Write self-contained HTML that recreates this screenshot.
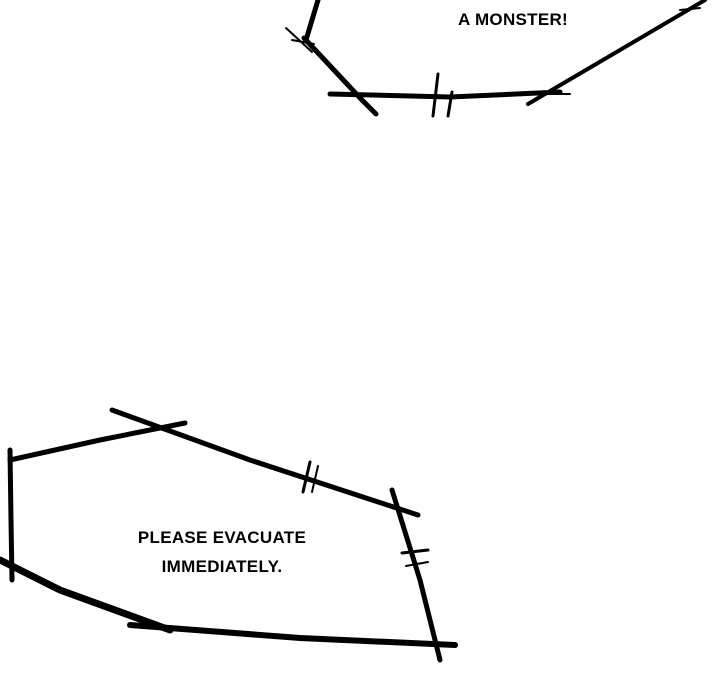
<!DOCTYPE html>
<html><head><style>
html,body{margin:0;padding:0;background:#fff;width:720px;height:700px;overflow:hidden}
</style></head><body>
<svg width="720" height="700" viewBox="0 0 720 700" xmlns="http://www.w3.org/2000/svg">
<g stroke="#000" stroke-linecap="round" fill="none">
<path d="M318 0 L306 40" stroke-width="5"/>
<path d="M286 28 L312 52" stroke-width="2"/>
<path d="M292 40 L314 44" stroke-width="2"/>
<path d="M304 38 L362 100 L376 114" stroke-width="5"/>
<path d="M330 94 L450 97 L560 92" stroke-width="5"/>
<path d="M438 74 L433 116" stroke-width="3"/>
<path d="M452 92 L448 116" stroke-width="3"/>
<path d="M528 104 L620 50 L705 0" stroke-width="4"/>
<path d="M540 94 L570 94" stroke-width="2"/>
<path d="M680 10 L700 8" stroke-width="2"/>
<path d="M10 460 L100 440 L185 423" stroke-width="5"/>
<path d="M112 410 L250 460 L418 515" stroke-width="5"/>
<path d="M10 450 L11 520 L12 580" stroke-width="5"/>
<path d="M0 560 L60 590 L170 630" stroke-width="7"/>
<path d="M130 625 L300 638 L455 645" stroke-width="6"/>
<path d="M392 490 L420 580 L440 660" stroke-width="5"/>
<path d="M310 462 L303 492" stroke-width="3"/>
<path d="M318 466 L312 492" stroke-width="2"/>
<path d="M402 553 L428 550" stroke-width="3"/>
<path d="M406 566 L428 562" stroke-width="2"/>
</g>
<g font-family="Liberation Sans, sans-serif" font-size="17" font-weight="bold" fill="#000" text-anchor="middle" letter-spacing="0.3">
<text x="513" y="25">A MONSTER!</text>
<text x="222" y="543">PLEASE EVACUATE</text>
<text x="222" y="572">IMMEDIATELY.</text>
</g>
</svg>
</body></html>
